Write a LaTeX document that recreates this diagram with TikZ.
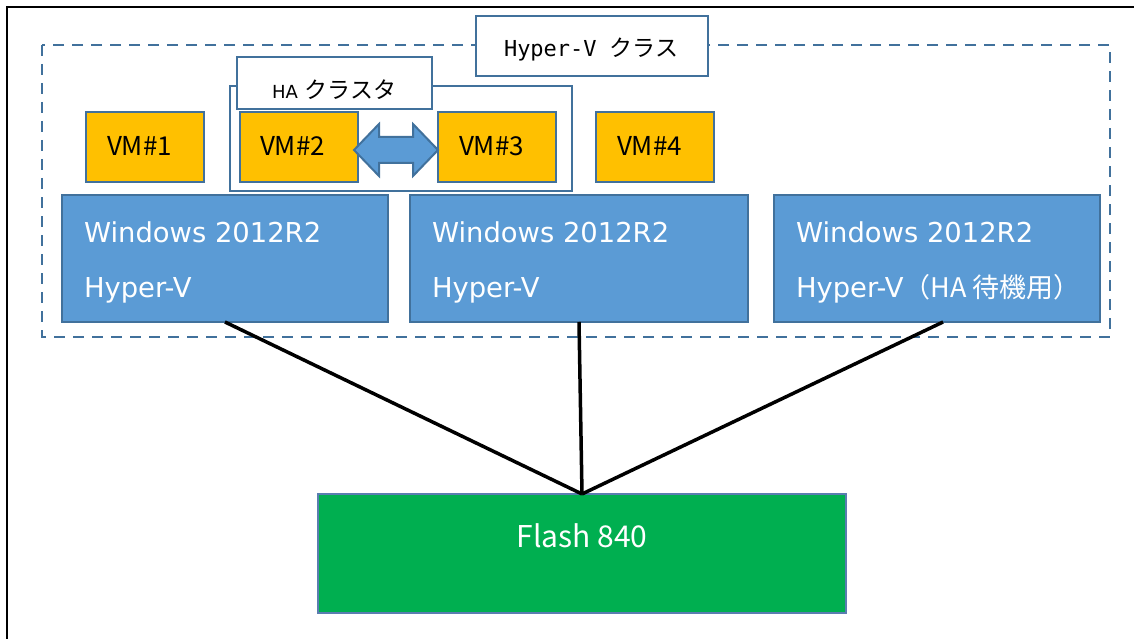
\documentclass[tikz,border=0pt]{standalone}
\usepackage{fontspec}
\setmainfont{DejaVu Sans}
\newfontfamily\jp{Noto Sans CJK JP}
\newfontfamily\dv{DejaVu Sans}
\newfontfamily\mono{DejaVu Sans Mono}
\usetikzlibrary{calc}
\definecolor{bord}{HTML}{41719C}
\definecolor{winblue}{HTML}{5B9BD5}
\definecolor{vmyel}{HTML}{FFC000}
\definecolor{flashg}{HTML}{00AF50}
\definecolor{flashb}{HTML}{5A7DB0}
\begin{document}
\begin{tikzpicture}[x=1pt,y=-1pt,
  box/.style={draw=bord, line width=2pt, anchor=north west, inner sep=0pt, outer sep=0pt},
  lblbox/.style={box, fill=white},
  vmbox/.style={box, fill=vmyel, minimum width=118pt, minimum height=70pt},
  winbox/.style={box, fill=winblue, minimum height=127pt},
  txt/.style={inner sep=0pt, outer sep=0pt, anchor=base west},
  wtxt/.style={txt, text=white, font=\dv\fontsize{27.4}{30}\selectfont},
  vmtxt/.style={txt, text=black, font=\jp\fontsize{26}{30}\selectfont},
  conn/.style={draw=black, line width=3.5pt}]
\useasboundingbox (0,0) rectangle (1134,639);
% outer frame
\draw[line width=2.2pt] (1140,7) -- (7,7) -- (7,645);
% Hyper-V cluster (dashed)
\draw[bord, line width=2.5pt, dash pattern=on 11pt off 8pt] (42,45) rectangle (1110,337);
\node[lblbox, minimum width=232pt, minimum height=60pt] (hvlbl) at (476,16) {};
\node[txt] (hvtxt) at (504,57) {\mono\fontsize{22}{26}\selectfont Hyper-V \jp\fontsize{23}{26}\selectfont クラス};
% HA cluster
\node[lblbox, minimum width=342pt, minimum height=105pt] (haouter) at (230,86) {};
\node[lblbox, minimum width=195pt, minimum height=52pt] (halbl) at (237,57) {};
\node[txt] (hatxt) at (272,99) {\dv\fontsize{18}{20}\selectfont HA\hspace{7pt}\jp\fontsize{23}{26}\selectfont クラスタ};
% VMs
\node[vmbox] (vm1) at (86,112) {};
\node[vmbox] (vm2) at (240,112) {};
\node[vmbox] (vm3) at (438,112) {};
\node[vmbox] (vm4) at (596,112) {};
\node[vmtxt] (vm1t) at (107,156) {VM\#1};
\node[vmtxt] (vm2t) at (260,156) {VM\#2};
\node[vmtxt] (vm3t) at (459,156) {VM\#3};
\node[vmtxt] (vm4t) at (617,156) {VM\#4};
% double arrow between VM#2 and VM#3
\coordinate (al) at ($(vm2.east)+(-4,3)$);
\coordinate (ar) at ($(vm3.west)+(0,3)$);
\draw[bord, fill=winblue, line width=2pt, line join=miter]
  (al) -- ($(al)+(25,-26)$) -- ($(al)+(25,-13)$) -- ($(ar)+(-25,-13)$) -- ($(ar)+(-25,-26)$)
  -- (ar) -- ($(ar)+(-25,26)$) -- ($(ar)+(-25,13)$) -- ($(al)+(25,13)$) -- ($(al)+(25,26)$) -- cycle;
% Windows hosts
\node[winbox, minimum width=326pt] (w1) at (62,195) {};
\node[winbox, minimum width=338pt] (w2) at (410,195) {};
\node[winbox, minimum width=326pt] (w3) at (774,195) {};
\node[wtxt] (w1a) at (84,242) {Windows 2012R2};
\node[wtxt] (w1b) at (84,297) {Hyper-V};
\node[wtxt] (w2a) at (432,242) {Windows 2012R2};
\node[wtxt] (w2b) at (432,297) {Hyper-V};
\node[wtxt] (w3a) at (796,242) {Windows 2012R2};
\node[wtxt] (w3b) at (796,297) {Hyper-V{\jp\fontsize{27}{30}\selectfont （HA 待機用）}};
% storage
\node[anchor=north west, draw=flashb, line width=1.5pt, fill=flashg, minimum width=528pt, minimum height=119pt, inner sep=0pt, outer sep=0pt] (flash) at (318,494) {};
\node[inner sep=0pt, anchor=base, text=white, font=\jp\fontsize{30}{34}\selectfont] (flasht) at (582,547) {Flash 840};
% connections
\draw[conn] (w1.south) -- (flash.north);
\draw[conn] (w2.south) -- (flash.north);
\draw[conn] ($(w3.south)+(6,0)$) -- (flash.north);
\end{tikzpicture}
\end{document}
